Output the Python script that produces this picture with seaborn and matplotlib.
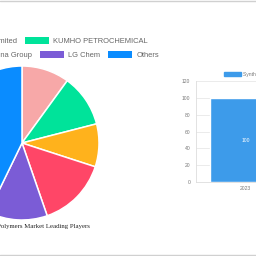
import matplotlib
matplotlib.use("Agg")
import matplotlib.pyplot as plt
import seaborn as sns
import pandas as pd
from matplotlib.lines import Line2D

# ---- data ----
players = ["Reliance Industries Limited", "KUMHO PETROCHEMICAL", "Zeon Corporation",
           "PetroChina Group", "LG Chem", "Others"]
shares = [10, 11, 9, 14.7, 12.5, 42.8]
pie_colors = ["#F7A8A8", "#00E39A", "#FFB21C", "#FF4667", "#7B5CD6", "#0A8CFF"]

years = ["2023"]
market_size = [100]
bar_series = "Synthetic Rubber Polymers Market Size"
bar_color = "#3D9BEA"
yticks = [0, 20, 40, 60, 80, 100, 120]

pie_title = "Synthetic Rubber Polymers Market Leading Players"

sns.set_theme(style="white")
plt.rcParams["font.family"] = ["Liberation Sans", "DejaVu Sans"]

W = H = 256.0
fig = plt.figure(figsize=(2.56, 2.56), dpi=100)
fig.patch.set_facecolor("white")

def px(x, y):
    return x / W, 1 - y / H

# ---- pie ----
cx, cy, r = 22, 143, 77
ax_pie = fig.add_axes([(cx - r) / W, (H - cy - r) / H, 2 * r / W, 2 * r / H])
wedges, _ = ax_pie.pie(shares, colors=pie_colors, startangle=90, counterclock=False,
                       wedgeprops=dict(edgecolor="white", linewidth=1.1))
ax_pie.set_xlim(-1, 1)
ax_pie.set_ylim(-1, 1)
ax_pie.set_aspect("equal")
ax_pie.axis("off")

leg_kw = dict(frameon=False, fontsize=5.45, handlelength=3.15, handleheight=1.0,
              handletextpad=0.62, columnspacing=1.0, borderpad=0, borderaxespad=0,
              labelcolor="#666666")
leg1 = fig.legend(wedges[:2], players[:2], ncol=2, loc="center right",
                  bbox_to_anchor=px(148, 41), **leg_kw)
leg2 = fig.legend(wedges[2:], players[2:], ncol=4, loc="center right",
                  bbox_to_anchor=px(159, 55), **leg_kw)
for leg in (leg1, leg2):
    for h in leg.legend_handles:
        h.set_edgecolor("none")

fig.text(*px(90, 226.5), pie_title, ha="right", va="center", fontsize=4.9,
         family=["Liberation Serif", "DejaVu Serif"], color="#222222")

# ---- bar ----
x0, x1, yb, yt = 196, 295, 182, 81.3
ax_bar = fig.add_axes([x0 / W, (H - yb) / H, (x1 - x0) / W, (yb - yt) / H])
df = pd.DataFrame({"year": years, "size": market_size})
sns.barplot(data=df, x="year", y="size", ax=ax_bar, color=bar_color, width=0.72,
            saturation=1)
ax_bar.set_ylim(0, 120)
ax_bar.set_xlim(-0.5, 0.5)
ax_bar.set_yticks(yticks)
ax_bar.set_xlabel("")
ax_bar.set_ylabel("")
ax_bar.grid(axis="y", color="#e8e8e8", linewidth=0.6)
ax_bar.set_axisbelow(True)
for s in ["top", "right"]:
    ax_bar.spines[s].set_visible(False)
for s in ["left", "bottom"]:
    ax_bar.spines[s].set_color("#dddddd")
    ax_bar.spines[s].set_linewidth(0.6)
ax_bar.tick_params(axis="y", length=2.5, width=0.6, color="#dddddd", pad=1.5,
                   labelsize=3.6, labelcolor="#777777")
ax_bar.tick_params(axis="x", length=0, pad=3, labelsize=3.6, labelcolor="#777777")
ax_bar.set_xticks([-0.5], minor=True)
ax_bar.tick_params(axis="x", which="minor", length=2.5, width=0.6, color="#dddddd")
for c in ax_bar.containers:
    ax_bar.bar_label(c, labels=[str(v) for v in market_size], label_type="center",
                     color="white", fontsize=3.6)

# bar legend
fig.patches.append(plt.Rectangle(px(224.3, 76.3), 16.7 / W, 4.3 / H, color=bar_color,
                                 transform=fig.transFigure))
fig.text(*px(243.3, 74.2), bar_series, ha="left", va="center", fontsize=3.6,
         color="#777777")

# page border lines
fig.add_artist(Line2D([0, 1], [1 - 0.6 / H] * 2, color="#d0d0d0", linewidth=1.0,
                      transform=fig.transFigure))
fig.add_artist(Line2D([0, 1], [1 - 255.3 / H] * 2, color="#d0d0d0", linewidth=1.0,
                      transform=fig.transFigure))

fig.savefig("out.png", dpi=100, facecolor="white")
